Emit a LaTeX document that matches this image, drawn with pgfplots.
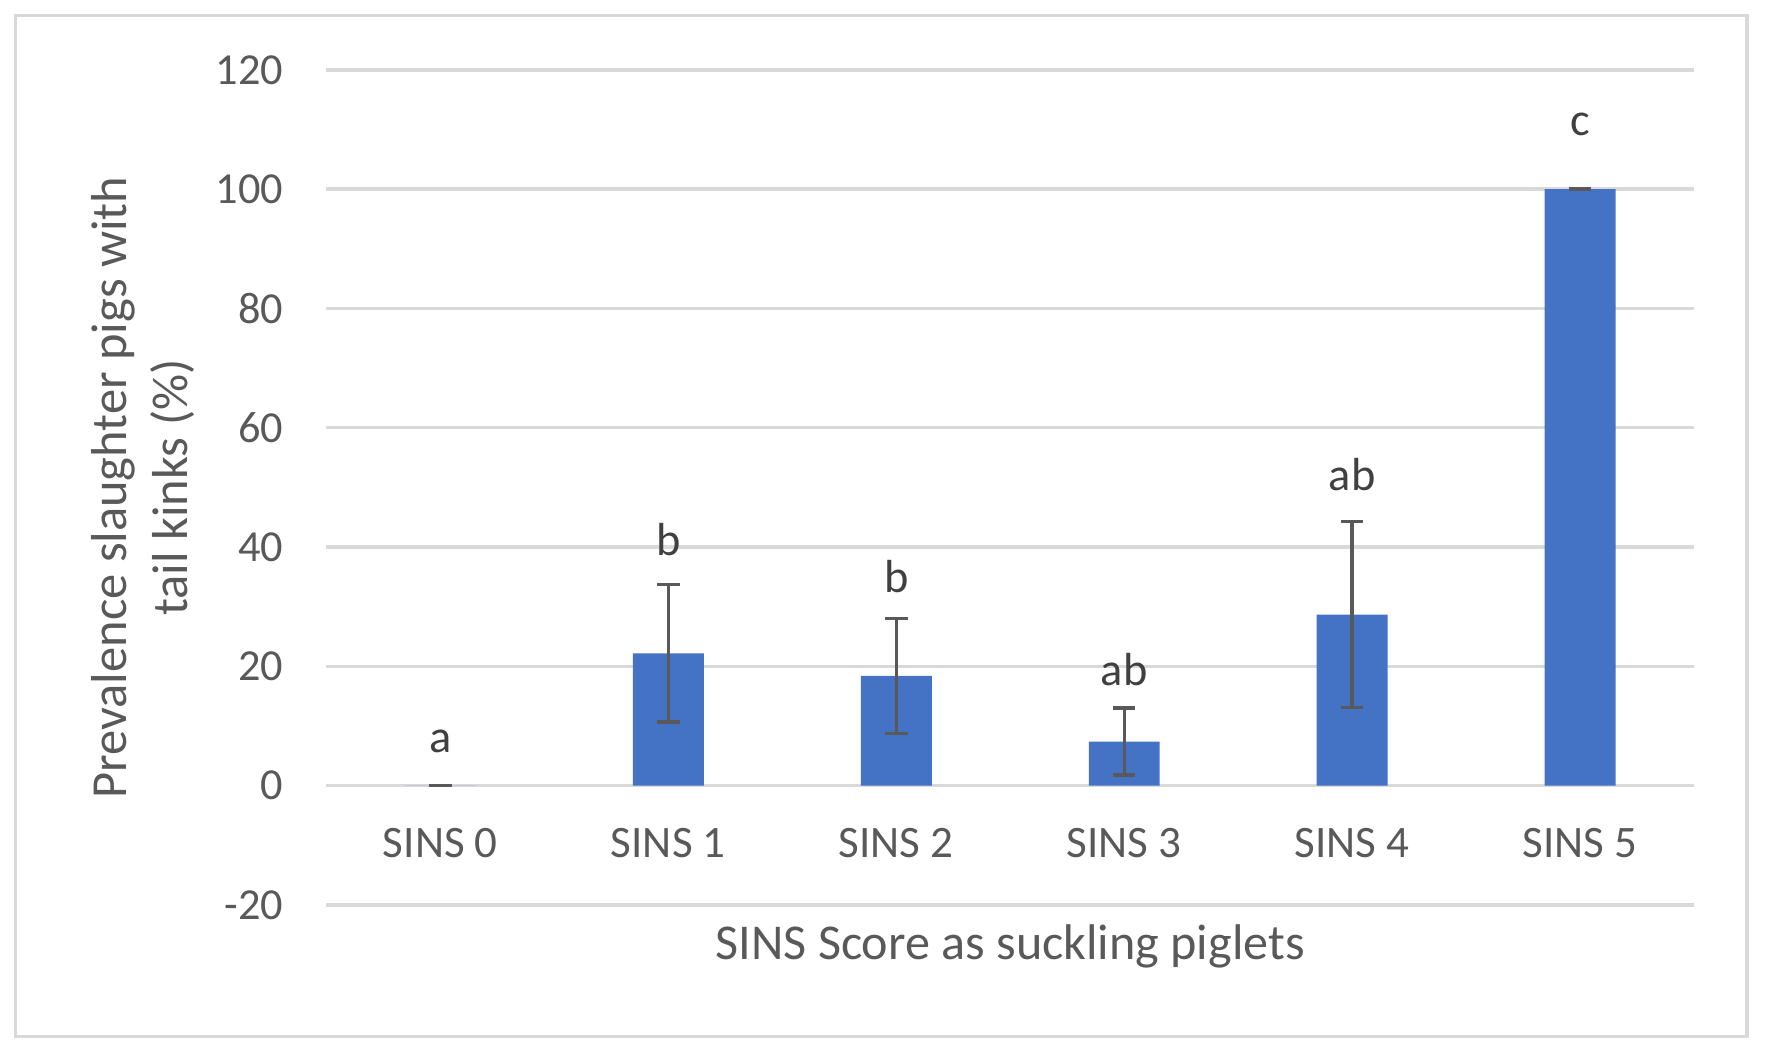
\documentclass[border=0pt]{standalone}
\usepackage{pgfplots}
\pgfplotsset{compat=1.18}
\usepackage{fontspec}
\setmainfont{Carlito}
\definecolor{barblue}{HTML}{4472C4}
\definecolor{txtgray}{HTML}{595959}
\definecolor{gridgray}{HTML}{D9D9D9}
\definecolor{lettergray}{HTML}{404040}
\begin{document}
\begin{tikzpicture}
\begin{axis}[
  scale only axis,
  width=400.95pt, height=244.86pt,
  xmin=-0.5, xmax=5.5,
  ymin=-20, ymax=120,
  ytick={-20,0,20,40,60,80,100,120},
  xtick={0,1,2,3,4,5},
  xticklabels={SINS 0,SINS 1,SINS 2,SINS 3,SINS 4,SINS 5},
  axis line style={draw=none},
  major tick length=0pt,
  ymajorgrids,
  grid style={gridgray, line width=1pt},
  /pgf/number format/assume math mode=true,
  yticklabel style={font=\fontsize{13}{15}\selectfont, text=txtgray, anchor=east, inner sep=0pt, xshift=-12.5pt},
  xticklabel style={font=\fontsize{13.2}{15}\selectfont, text=txtgray, anchor=base, inner sep=0pt, yshift=13.8pt},
  clip=false,
]
\addplot[ybar, bar width=20.8pt, fill=barblue, draw=none,
  error bars/.cd, y dir=both, y explicit,
  error bar style={txtgray, line width=1pt},
  error mark options={rotate=90, mark size=3.3pt, line width=1pt, txtgray}]
  table[x=x, y=y, y error=e] {
x y e
0 0 0
1 22.2 11.5
2 18.4 9.6
3 7.4 5.6
4 28.7 15.6
5 100 0
};
\begin{scope}[font=\fontsize{13.6}{16}\selectfont, text=lettergray]
\node at (axis cs:0,7.5) {a};
\node at (axis cs:1,41.2) {b};
\node at (axis cs:2,35.1) {b};
\node at (axis cs:3,19.4) {ab};
\node at (axis cs:4,52.2) {ab};
\node at (axis cs:5,110.8) {c};
\end{scope}
\node[anchor=base, font=\fontsize{14.7}{17}\selectfont, text=txtgray] at (axis cs:2.5,-29.2) {SINS Score as suckling piglets};
\node[rotate=90, align=center, font=\fontsize{14.8}{18}\selectfont, text=txtgray] at (axis cs:-1.305,50) {Prevalence slaughter pigs with\\tail kinks (\%)};
\draw[gridgray, line width=1pt] (axis cs:-1.863,129.06) rectangle (axis cs:5.732,-42.08);
\coordinate (bbl) at (axis cs:-1.932,-44.9);
\coordinate (btr) at (axis cs:5.811,131.7);
\end{axis}
\pgfresetboundingbox
\path[use as bounding box] (bbl) rectangle (btr);
\end{tikzpicture}
\end{document}
